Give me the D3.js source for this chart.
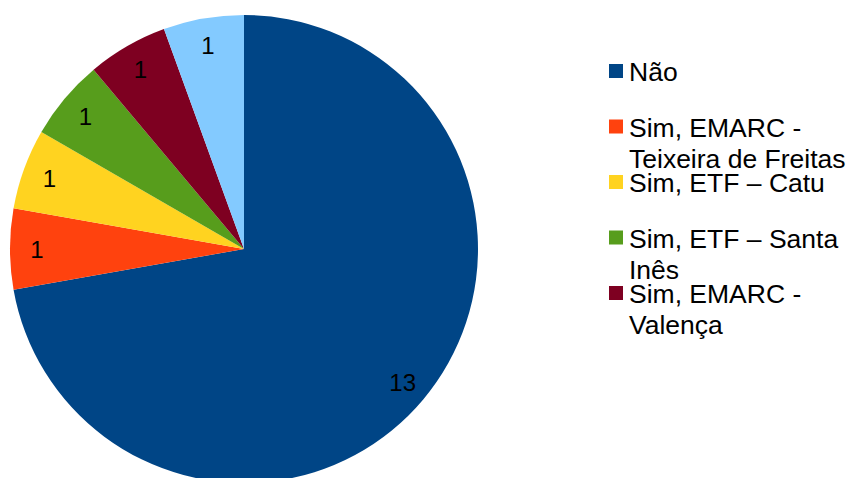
<!DOCTYPE html>
<html>
<head>
<meta charset="utf-8">
<script src="https://cdn.jsdelivr.net/npm/d3@7"></script>
<style>
  html, body { margin: 0; padding: 0; background: #fff; }
  svg { display: block; }
  svg text { font-family: "Liberation Sans", Arial, Helvetica, sans-serif; }
</style>
</head>
<body>
<svg id="chart" width="850" height="478"></svg>
<script>
// Respostas por categoria
const categories = [
  "Não",
  "Sim, EMARC - Teixeira de Freitas",
  "Sim, ETF – Catu",
  "Sim, ETF – Santa Inês",
  "Sim, EMARC - Valença",
  "Sim, outra"
];
const values = [13, 1, 1, 1, 1, 1];
// Quebras de linha usadas na legenda
const legendLines = [
  ["Não"],
  ["Sim, EMARC -", "Teixeira de Freitas"],
  ["Sim, ETF – Catu"],
  ["Sim, ETF – Santa", "Inês"],
  ["Sim, EMARC -", "Valença"]
];
const colors = ["#004586", "#ff420e", "#ffd320", "#579d1c", "#7e0021", "#83caff"];

const svg = d3.select("#chart");
const cx = 244, cy = 249, radius = 234;

const data = categories.map((c, i) => ({ name: c, value: values[i] }));
const color = d3.scaleOrdinal().domain(categories).range(colors);

const pie = d3.pie().sort(null).value(d => d.value).startAngle(0).endAngle(2 * Math.PI);
const arc = d3.arc().innerRadius(0).outerRadius(radius);
const labelArc = d3.arc().innerRadius(radius * 0.885).outerRadius(radius * 0.885);

const g = svg.append("g").attr("transform", `translate(${cx},${cy})`);
const arcs = pie(data);

g.selectAll("path.slice")
  .data(arcs)
  .join("path")
  .attr("class", "slice")
  .attr("d", arc)
  .attr("fill", d => color(d.data.name));

g.selectAll("text.value")
  .data(arcs)
  .join("text")
  .attr("class", "value")
  .attr("transform", d => {
    const [x, y] = labelArc.centroid(d);
    return `translate(${x},${y})`;
  })
  .attr("text-anchor", "middle")
  .attr("dy", "0.36em")
  .attr("font-size", 24)
  .attr("fill", "#000")
  .text(d => d.data.value);

// Legenda (cinco primeiras entradas)
const legend = svg.append("g").attr("transform", "translate(609,0)");
const entryBase = 81, entryStep = 55.5, lineStep = 31;
const items = legend.selectAll("g.item")
  .data(legendLines)
  .join("g")
  .attr("class", "item")
  .attr("transform", (d, i) => `translate(0,${entryBase + i * entryStep})`);

items.append("rect")
  .attr("x", 0)
  .attr("y", -17)
  .attr("width", 14)
  .attr("height", 14)
  .attr("fill", (d, i) => colors[i]);

items.append("text")
  .attr("x", 20)
  .attr("y", 0)
  .attr("font-size", 26.5)
  .attr("fill", "#000")
  .selectAll("tspan")
  .data(d => d)
  .join("tspan")
  .attr("x", 20)
  .attr("dy", (d, i) => i === 0 ? 0 : lineStep)
  .text(d => d);
</script>
</body>
</html>
